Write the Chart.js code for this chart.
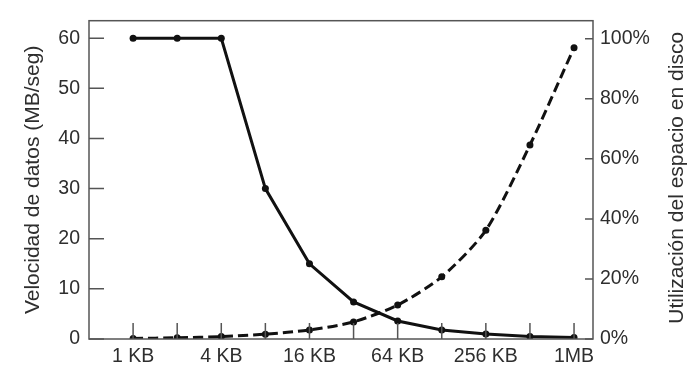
<!DOCTYPE html>
<html>
<head>
<meta charset="utf-8">
<script src="https://cdn.jsdelivr.net/npm/chart.js@4"></script>
<style>
  html, body { margin: 0; padding: 0; background: #fff; }
  #wrap { width: 695px; height: 375px; }
</style>
</head>
<body>
<div id="wrap"><canvas id="chart" width="695" height="375"></canvas></div>
<script>
// block sizes on the x axis
const blockSizes = ['1 KB', '2 KB', '4 KB', '8 KB', '16 KB', '32 KB', '64 KB', '128 KB', '256 KB', '512 KB', '1MB'];
// data rate, MB/s (left axis)
const dataRate = [60, 60, 60, 30, 15, 7.4, 3.6, 1.8, 1.0, 0.5, 0.3];
// disk space utilisation, % (right axis)
const diskUse = [0.2, 0.4, 0.8, 1.6, 3, 5.7, 11.3, 20.7, 36.2, 64.6, 97];

const leftTitle = 'Velocidad de datos (MB/seg)';
const rightTitle = 'Utilización del espacio en disco';

const FONT = "'Liberation Sans', Arial, sans-serif";
const TXT = '#2e2e2e';
const AXIS = '#555';

// inward tick marks, plot frame and right title
const framePlugin = {
    id: 'frame',
    afterDraw(chart) {
        const ctx = chart.ctx;
        const a = chart.chartArea;
        const x = chart.scales.x, yl = chart.scales.y, yr = chart.scales.y2;
        ctx.save();
        ctx.strokeStyle = AXIS;
        ctx.lineWidth = 1.5;
        ctx.strokeRect(a.left, a.top, a.right - a.left, a.bottom - a.top);
        ctx.beginPath();
        yl.ticks.forEach(t => {
            const py = yl.getPixelForValue(t.value);
            ctx.moveTo(a.left, py); ctx.lineTo(a.left + 15, py);
        });
        yr.ticks.forEach(t => {
            const py = yr.getPixelForValue(t.value);
            ctx.moveTo(a.right, py); ctx.lineTo(a.right - 8, py);
        });
        blockSizes.forEach((b, i) => {
            const px = x.getPixelForValue(i);
            ctx.moveTo(px, a.bottom); ctx.lineTo(px, a.bottom - 16);
        });
        ctx.stroke();

        ctx.fillStyle = TXT;
        ctx.font = '21px ' + FONT;
        ctx.textAlign = 'center';
        ctx.textBaseline = 'middle';
        ctx.translate(677, (a.top + a.bottom) / 2 - 2);
        ctx.rotate(-Math.PI / 2);
        ctx.fillText(rightTitle, 0, 0);
        ctx.restore();
    }
};

function init() {
    const ctx = document.getElementById('chart').getContext('2d');
    new Chart(ctx, {
        type: 'line',
        data: {
            datasets: [{
                data: dataRate.map((v, i) => ({ x: i, y: v })),
                yAxisID: 'y',
                borderColor: '#111', backgroundColor: '#111',
                borderWidth: 3, pointRadius: 3.5, pointBorderWidth: 0,
                tension: 0
            }, {
                data: diskUse.map((v, i) => ({ x: i, y: v })),
                yAxisID: 'y2',
                borderColor: '#111', backgroundColor: '#111',
                borderWidth: 3, borderDash: [10, 5], pointRadius: 3.5, pointBorderWidth: 0,
                tension: 0.25
            }]
        },
        options: {
            responsive: false,
            animation: false,
            layout: { padding: { top: 20 } },
            plugins: { legend: { display: false }, tooltip: { enabled: false } },
            scales: {
                x: {
                    type: 'linear', min: -1, max: 10.43,
                    afterFit: s => { s.height = 36; },
                    grid: { display: false, drawTicks: false },
                    border: { display: false },
                    ticks: {
                        stepSize: 1, includeBounds: false, autoSkip: false, maxRotation: 0,
                        padding: 6, color: TXT, font: { family: FONT, size: 19.5 },
                        callback: v => (v >= 0 && v % 2 === 0) ? blockSizes[v] : ''
                    }
                },
                y: {
                    position: 'left', min: 0, max: 63.5,
                    afterFit: s => { s.width = 89; },
                    grid: { display: false, drawTicks: false },
                    border: { display: false },
                    ticks: { stepSize: 10, includeBounds: false, padding: 9, color: TXT, font: { family: FONT, size: 19.5 } },
                    title: { display: true, text: leftTitle, color: TXT, font: { family: FONT, size: 21 }, padding: { top: 21, bottom: 0 } }
                },
                y2: {
                    position: 'right', min: 0, max: 106,
                    afterFit: s => { s.width = 102; },
                    grid: { display: false, drawTicks: false },
                    border: { display: false },
                    ticks: { stepSize: 20, includeBounds: false, padding: 7, color: TXT, font: { family: FONT, size: 19.5 },
                        callback: v => v + '%' }
                }
            }
        },
        plugins: [framePlugin]
    });
}

document.addEventListener('DOMContentLoaded', init);
</script>
</body>
</html>
